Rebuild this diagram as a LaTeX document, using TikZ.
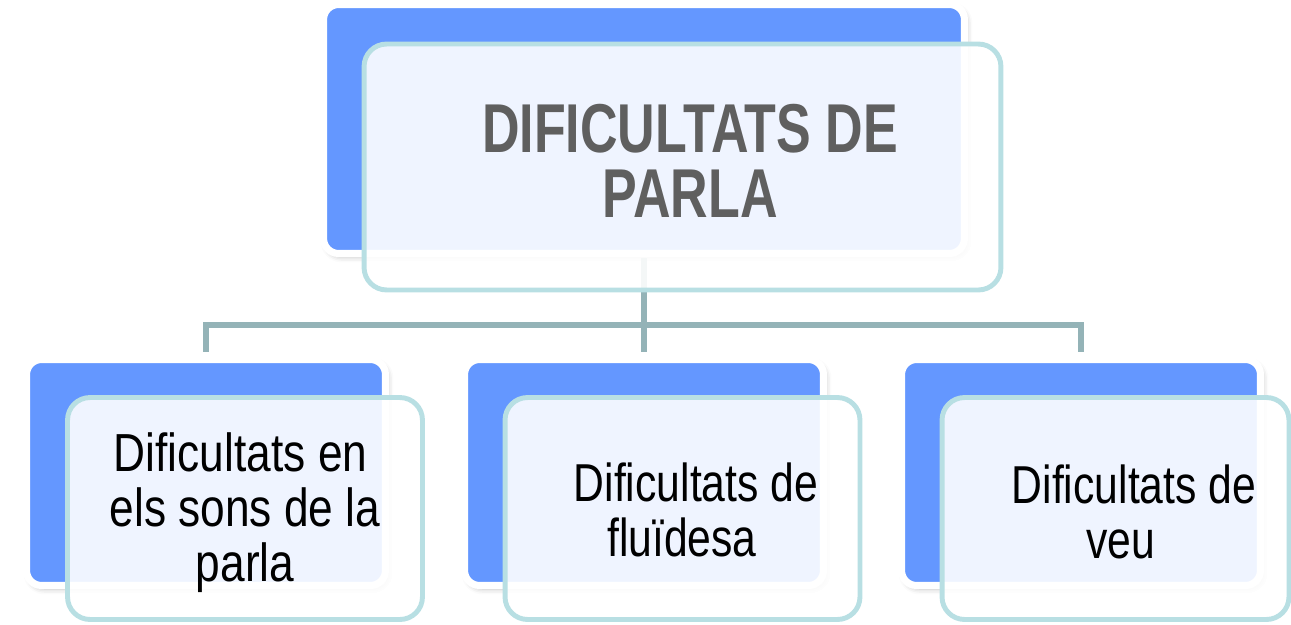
\documentclass[tikz,border=0pt]{standalone}
\usepackage{fontspec}
\usepackage{graphicx}
\setmainfont{Liberation Sans}
\usetikzlibrary{shadows.blur}
\definecolor{boxblue}{HTML}{6497FF}
\definecolor{rimteal}{HTML}{B8DFE3}
\definecolor{linkgray}{HTML}{94B3B7}
\definecolor{titlegray}{HTML}{5F5F5F}
\newcommand{\tallrows}[2]{\scalebox{1}[#1]{\begin{tabular}{@{}c@{}}#2\end{tabular}}}

\begin{document}
\begin{tikzpicture}[x=0.02cm, y=-0.02cm,
		backbox/.style={rectangle, inner sep=0pt, outer sep=0pt, rounded corners=0.3cm, fill=boxblue, draw=white, line width=4pt, blur shadow={shadow xshift=1.5pt, shadow yshift=-2pt, shadow blur radius=3pt, shadow opacity=25}},
		frontbox/.style={rectangle, inner sep=0pt, outer sep=0pt, rounded corners=0.45cm, fill=white, fill opacity=0.9, draw=rimteal, line width=2.8pt},
		link/.style={draw=linkgray, line width=3.4pt},
		headtext/.style={inner sep=0pt, font=\fontsize{29.6}{26}\selectfont\bfseries, text=titlegray},
		itemtext/.style={inner sep=0pt, font=\fontsize{24.3}{25}\selectfont, text=black}]
		\useasboundingbox (0,0) rectangle (1291,625);
		\node[backbox, minimum width=12.82cm, minimum height=4.98cm] (parlaback) at (644,129) {};
		\node[backbox, minimum width=7.18cm, minimum height=4.52cm] (sonsback) at (206,472.5) {};
		\node[backbox, minimum width=7.18cm, minimum height=4.52cm] (fluidback) at (644,472.5) {};
		\node[backbox, minimum width=7.18cm, minimum height=4.52cm] (veuback) at (1081,472.5) {};
		\coordinate (hub) at (644,325);
		\draw[link, shorten <=0.09cm] (parlaback.south) -- (hub);
		\draw[link, shorten >=0.15cm] (hub) -| (sonsback.north);
		\draw[link, shorten >=0.15cm] (hub) -- (fluidback.north);
		\draw[link, shorten >=0.15cm] (hub) -| (veuback.north);
		\node[frontbox, minimum width=12.74cm, minimum height=4.92cm] (parla) at (682.5,167) {};
		\node[frontbox, minimum width=7.1cm, minimum height=4.44cm] (sons) at (245,508.5) {};
		\node[frontbox, minimum width=7.1cm, minimum height=4.44cm] (fluid) at (682.5,508.5) {};
		\node[frontbox, minimum width=6.94cm, minimum height=4.44cm] (veu) at (1115.5,508.5) {};
		\node[headtext] (parlatitle) at (690,170) {\tallrows{1.33}{DIFICULTATS DE\\PARLA}};
		\node[itemtext, font=\fontsize{25.2}{25}\selectfont] (sonstext) at (245,515) {\tallrows{1.21}{Dificultats en\hspace*{5pt}\\els sons de la\\parla}};
		\node[itemtext] (fluidtext) at (696,518) {\tallrows{1.25}{Dificultats de\\flu\"idesa\hspace*{16pt}}};
		\node[itemtext] (veutext) at (1134,520) {\tallrows{1.25}{Dificultats de\\veu\hspace*{15pt}}};
\end{tikzpicture}
\end{document}
